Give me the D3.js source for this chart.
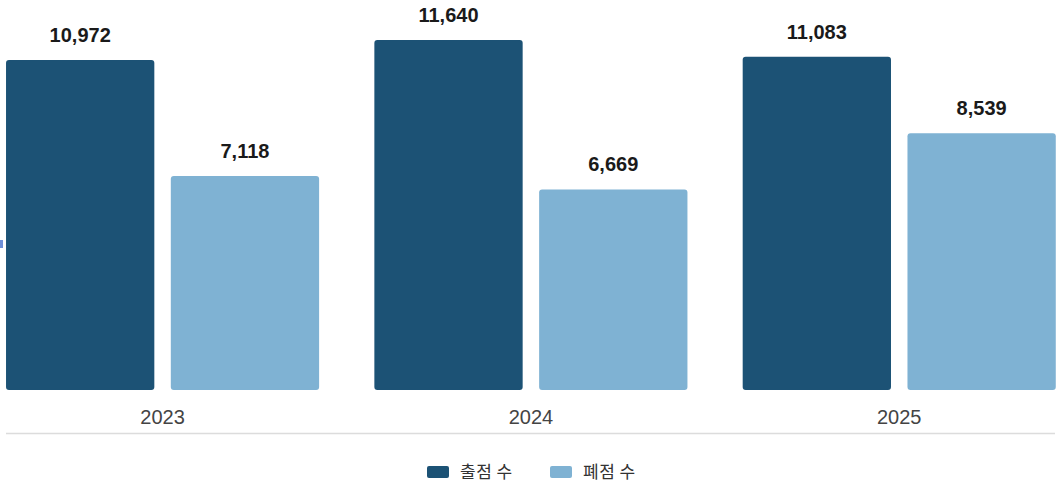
<!DOCTYPE html>
<html>
<head>
<meta charset="utf-8">
<script src="https://cdn.jsdelivr.net/npm/d3@7/dist/d3.min.js"></script>
<style>
  html, body { margin: 0; padding: 0; background: #fff; }
  svg { display: block; font-family: "Liberation Sans", Arial, sans-serif; }
</style>
</head>
<body>
<script>
const years = ["2023", "2024", "2025"];
const seriesNames = ["출점 수", "폐점 수"];
const openings = [10972, 11640, 11083];
const closings = [7118, 6669, 8539];
const colors = ["#1c5275", "#7fb2d3"];

const width = 1057;
const height = 491;

const svg = d3.select('body').append('svg').attr('width', width).attr('height', height);

const x0 = d3.scaleBand().domain(years)
    .range([-21.6, 1083.4]).paddingInner(0.15).paddingOuter(0.075);
const x1 = d3.scaleBand().domain(seriesNames)
    .range([0, x0.bandwidth()]).paddingInner(0.1);
const y = d3.scaleLinear().domain([0, 12000]).range([390, 29.2]);

const rows = years.map((yr, i) => ({
    year: yr,
    values: [
        { name: seriesNames[0], value: openings[i], color: colors[0] },
        { name: seriesNames[1], value: closings[i], color: colors[1] }
    ]
}));

// small marker at the left edge
svg.append('rect').attr('x', 0).attr('y', 240).attr('width', 3).attr('height', 8).attr('fill', '#6f8fd8');

const groups = svg.selectAll('g.year').data(rows).enter().append('g')
    .attr('class', 'year')
    .attr('transform', d => `translate(${x0(d.year)},0)`);

groups.selectAll('rect').data(d => d.values).enter().append('rect')
    .attr('x', d => x1(d.name))
    .attr('y', d => y(d.value))
    .attr('width', x1.bandwidth())
    .attr('height', d => y(0) - y(d.value))
    .attr('rx', 3).attr('ry', 3)
    .attr('fill', d => d.color);

groups.selectAll('text.val').data(d => d.values).enter().append('text')
    .attr('class', 'val')
    .attr('x', d => x1(d.name) + x1.bandwidth() / 2)
    .attr('y', d => y(d.value) - 18)
    .attr('text-anchor', 'middle')
    .attr('font-size', 20).attr('font-weight', 'bold')
    .attr('fill', '#1a1a1a')
    .text(d => d3.format(',')(d.value));

// x axis
const xAxis = svg.append('g').attr('transform', 'translate(0,390)')
    .call(d3.axisBottom(x0).tickSize(0).tickPadding(20));
xAxis.select('.domain').remove();
xAxis.selectAll('text')
    .attr('font-size', 20)
    .attr('font-family', '"Liberation Sans", Arial, sans-serif')
    .attr('fill', '#444');

svg.append('line')
    .attr('x1', 6).attr('x2', 1055)
    .attr('y1', 433.5).attr('y2', 433.5)
    .attr('stroke', '#dcdcdc').attr('stroke-width', 1.5);

// legend
const legendX = [427, 550];
const legend = svg.selectAll('g.legend').data(seriesNames).enter().append('g')
    .attr('class', 'legend')
    .attr('transform', (d, i) => `translate(${legendX[i]},466)`);
legend.append('rect').attr('width', 22).attr('height', 12).attr('rx', 2)
    .attr('fill', (d, i) => colors[i]);
legend.append('text').attr('x', 33).attr('y', 11.5)
    .attr('font-size', 17).attr('fill', '#333')
    .attr('letter-spacing', 0.5)
    .attr('font-family', '"Noto Sans CJK KR", sans-serif')
    .text(d => d);
</script>
</body>
</html>
